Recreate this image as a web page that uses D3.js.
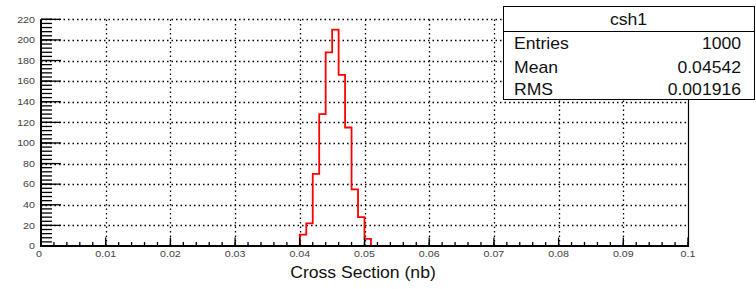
<!DOCTYPE html>
<html><head><meta charset="utf-8">
<script src="https://cdn.jsdelivr.net/npm/d3@7"></script>
<style>
html,body{margin:0;padding:0;background:#fff;}
svg{display:block;font-family:"Liberation Sans",Arial,Helvetica,sans-serif;}
</style></head>
<body>
<svg id="c" width="756" height="289"></svg>
<script>
// ---- data ----
const binLowEdges = [0.040,0.041,0.042,0.043,0.044,0.045,0.046,0.047,0.048,0.049,0.050];
const binWidth = 0.001;
const counts = [11,22,70,128,188,210,166,115,55,28,7];
const xTicks = [0,0.01,0.02,0.03,0.04,0.05,0.06,0.07,0.08,0.09,0.1];
const xTickLabels = ["0","0.01","0.02","0.03","0.04","0.05","0.06","0.07","0.08","0.09","0.1"];
const yTicks = [0,20,40,60,80,100,120,140,160,180,200,220];
const xTitle = "Cross Section (nb)";
const statsTitle = "csh1";
const statsNames = ["Entries","Mean","RMS"];
const statsValues = ["1000","0.04542","0.001916"];

// ---- layout ----
const svg = d3.select("#c");
const X0 = 41, X1 = 688, Y0 = 246, Y1 = 19.3;
const x = d3.scaleLinear().domain([0,0.1]).range([X0,X1]);
const y = d3.scaleLinear().domain([0,220]).range([Y0,Y1]);

// grid (dotted)
const grid = svg.append("g").attr("stroke","#000").attr("stroke-width",1.3)
  .attr("stroke-dasharray","1.5,3");
xTicks.filter(t=>t>0 && t<0.1).forEach(t=>{
  grid.append("line").attr("x1",Math.round(x(t))+0.5).attr("x2",Math.round(x(t))+0.5)
    .attr("y1",Y0).attr("y2",Y1);
});
yTicks.filter(t=>t>0).forEach(t=>{
  grid.append("line").attr("x1",X0).attr("x2",X1)
    .attr("y1",Math.round(y(t))+0.5).attr("y2",Math.round(y(t))+0.5);
});
// right frame
svg.append("line").attr("x1",X1+0.5).attr("x2",X1+0.5).attr("y1",Y1).attr("y2",Y0)
  .attr("stroke","#000").attr("stroke-width",1.2);

// histogram step path
const pts = [];
binLowEdges.forEach((lo,i)=>{
  pts.push([x(lo), y(i===0?0:counts[i-1])]);
  pts.push([x(lo), y(counts[i])]);
});
const last = binLowEdges[binLowEdges.length-1]+binWidth;
pts.push([x(last), y(counts[counts.length-1])]);
pts.push([x(last), y(0)]);
svg.append("path").attr("d", d3.line()(pts)).attr("fill","none")
  .attr("stroke","#ff0000").attr("stroke-width",1.8);

// x axis
const xMinor = d3.range(0,0.1001,0.002);
const xa = svg.append("g");
xMinor.forEach(t=>{
  xa.append("line").attr("x1",x(t)).attr("x2",x(t)).attr("y1",Y0).attr("y2",Y0-4)
    .attr("stroke","#000").attr("stroke-width",1.3);
});
xTicks.forEach(t=>{
  xa.append("line").attr("x1",x(t)).attr("x2",x(t)).attr("y1",Y0).attr("y2",Y0-8.5)
    .attr("stroke","#000").attr("stroke-width",1.3);
});
xa.append("line").attr("x1",X0-1).attr("x2",X1+1).attr("y1",Y0).attr("y2",Y0)
  .attr("stroke","#000").attr("stroke-width",2);
xTicks.forEach((t,i)=>{
  xa.append("text").attr("transform",`translate(${i===0?x(t)-2:x(t)},${Y0+10.5}) scale(1.15,1)`)
    .attr("text-anchor","middle").attr("font-size",9.3).attr("fill","#444")
    .text(xTickLabels[i]);
});

// y axis
const yMinor = d3.range(0,220.1,4);
const ya = svg.append("g");
yMinor.forEach(t=>{
  ya.append("line").attr("x1",X0).attr("x2",X0+11).attr("y1",y(t)).attr("y2",y(t))
    .attr("stroke","#000").attr("stroke-width",1.3);
});
yTicks.forEach(t=>{
  ya.append("line").attr("x1",X0).attr("x2",X0+20).attr("y1",y(t)).attr("y2",y(t))
    .attr("stroke","#000").attr("stroke-width",1.3);
});
ya.append("line").attr("x1",X0).attr("x2",X0).attr("y1",Y0+1).attr("y2",Y1)
  .attr("stroke","#000").attr("stroke-width",2);
yTicks.forEach(t=>{
  ya.append("text").attr("transform",`translate(35,${y(t)+3.3}) scale(1.15,1)`)
    .attr("text-anchor","end").attr("font-size",9.3).attr("fill","#444")
    .text(String(t));
});

// x title
svg.append("text").attr("transform",`translate(363,277.5) scale(1.1,1)`)
  .attr("text-anchor","middle").attr("font-size",16).attr("fill","#111").text(xTitle);

// stats box
const bx = 503, by = 6, bw = 251, bh = 93;
svg.append("rect").attr("x",bx+0.5).attr("y",by+0.5).attr("width",bw).attr("height",bh)
  .attr("fill","#fff").attr("stroke","#000").attr("stroke-width",1);
svg.append("line").attr("x1",bx).attr("x2",bx+bw).attr("y1",31.5).attr("y2",31.5)
  .attr("stroke","#000").attr("stroke-width",1);
svg.append("text").attr("transform",`translate(${bx+bw/2},24.5) scale(1.1,1)`)
  .attr("text-anchor","middle").attr("font-size",16).attr("fill","#111").text(statsTitle);
const rowY = [49,72.5,95];
statsNames.forEach((n,i)=>{
  svg.append("text").attr("transform",`translate(514,${rowY[i]}) scale(1.1,1)`)
    .attr("font-size",16).attr("fill","#111").text(n);
  svg.append("text").attr("transform",`translate(741,${rowY[i]}) scale(1.1,1)`)
    .attr("text-anchor","end").attr("font-size",16).attr("fill","#111").text(statsValues[i]);
});
</script>
</body></html>
